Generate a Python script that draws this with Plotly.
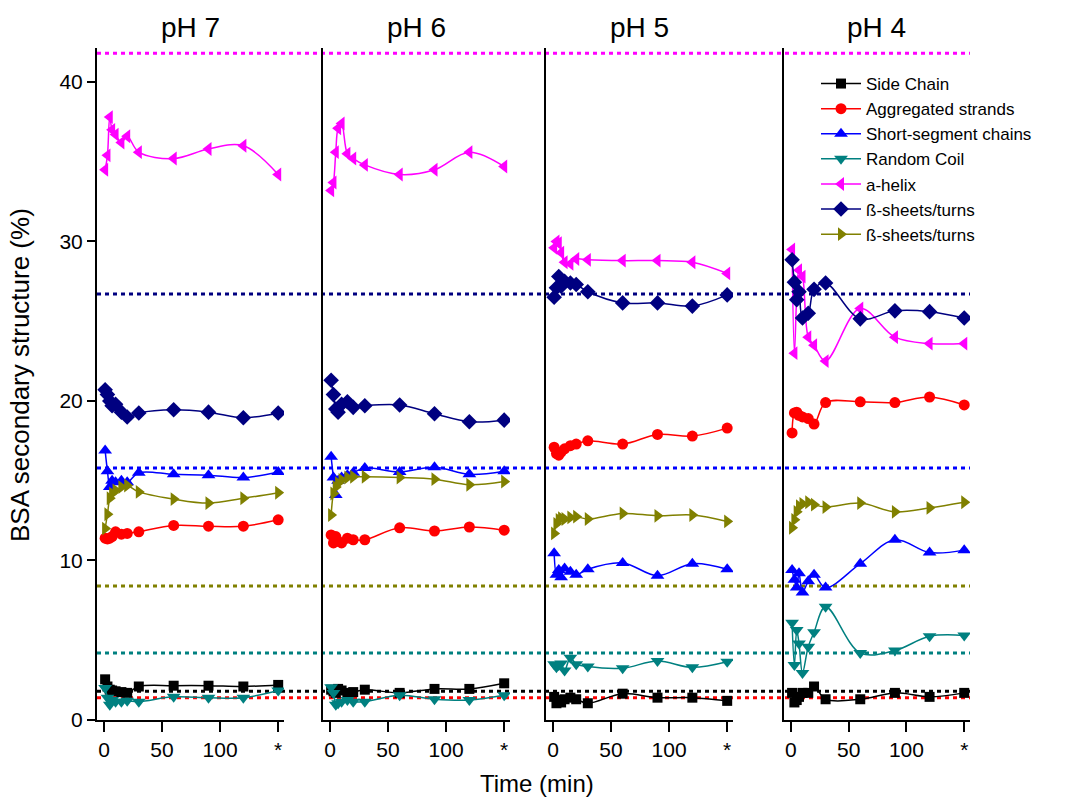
import plotly.graph_objects as go

panels = ["pH 7", "pH 6", "pH 5", "pH 4"]
times = [1, 3, 5, 7, 10, 15, 20, 30, 60, 90, 120, 150]
tick_vals = [0, 50, 100, 150]
tick_text = ["0", "50", "100", "*"]

series_names = ["Side Chain", "Aggregated strands", "Short-segment chains", "Random Coil",
                "a-helix", "ß-sheets/turns", "ß-sheets/turns"]
colors = ["#000000", "#FF0000", "#0000FF", "#008080", "#FF00FF", "#000080", "#808000"]
symbols = ["square", "circle", "triangle-up", "triangle-down", "triangle-left", "diamond", "triangle-right"]

# reference levels (dotted lines), same order as series
ref_levels = [1.8, 1.4, 15.8, 4.2, 41.8, 26.7, 8.4]

# pH 7
side_ph7 = [2.55, 2.1, 1.9, 1.85, 1.8, 1.75, 1.7, 2.1, 2.15, 2.15, 2.1, 2.2]
aggr_ph7 = [11.4, 11.35, 11.4, 11.5, 11.8, 11.65, 11.7, 11.8, 12.2, 12.15, 12.15, 12.55]
short_ph7 = [16.9, 15.6, 14.6, 15.0, 14.9, 15.0, 14.9, 15.5, 15.4, 15.35, 15.2, 15.55]
coil_ph7 = [2.0, 1.4, 0.95, 1.25, 1.15, 1.15, 1.2, 1.15, 1.45, 1.4, 1.4, 1.85]
helix_ph7 = [34.5, 35.4, 37.8, 37.0, 36.7, 36.2, 36.6, 35.6, 35.2, 35.8, 36.0, 34.2]
beta1_ph7 = [20.7, 20.4, 20.0, 19.7, 19.8, 19.3, 19.0, 19.25, 19.45, 19.3, 18.95, 19.25]
beta2_ph7 = [12.0, 12.9, 13.9, 14.2, 14.4, 14.6, 14.7, 14.3, 13.85, 13.6, 13.9, 14.25]

# pH 6
side_ph6 = [1.9, 1.8, 1.7, 1.95, 1.85, 1.7, 1.75, 1.9, 1.7, 1.95, 1.95, 2.3]
aggr_ph6 = [11.6, 11.1, 11.5, 11.2, 11.1, 11.4, 11.3, 11.3, 12.05, 11.85, 12.1, 11.9]
short_ph6 = [16.5, 15.2, 14.1, 15.0, 15.2, 15.35, 15.5, 15.8, 15.55, 15.85, 15.4, 15.6]
coil_ph6 = [2.05, 1.7, 0.95, 1.05, 1.15, 1.25, 1.15, 1.15, 1.55, 1.3, 1.25, 1.55]
helix_ph6 = [33.2, 33.7, 35.6, 37.1, 37.4, 35.5, 35.2, 34.8, 34.2, 34.5, 35.6, 34.7]
beta1_ph6 = [21.3, 20.4, 19.5, 19.3, 19.8, 19.95, 19.6, 19.7, 19.75, 19.2, 18.7, 18.8]
beta2_ph6 = [12.85, 14.2, 14.6, 14.85, 15.05, 15.2, 15.25, 15.25, 15.2, 15.1, 14.75, 14.95]

# pH 5
side_ph5 = [1.45, 1.05, 1.25, 1.1, 1.3, 1.4, 1.3, 1.05, 1.65, 1.4, 1.4, 1.2]
aggr_ph5 = [17.1, 16.7, 16.6, 16.8, 17.0, 17.2, 17.3, 17.5, 17.3, 17.9, 17.8, 18.3]
short_ph5 = [10.45, 9.1, 9.4, 8.95, 9.5, 9.3, 9.1, 9.45, 9.85, 9.05, 9.8, 9.45]
coil_ph5 = [3.5, 3.3, 3.45, 3.55, 3.1, 3.9, 3.5, 3.35, 3.25, 3.7, 3.3, 3.65]
helix_ph5 = [29.6, 30.0, 29.9, 29.3, 28.7, 28.6, 28.9, 28.85, 28.8, 28.8, 28.7, 28.0]
beta1_ph5 = [26.5, 27.1, 27.8, 27.2, 27.5, 27.4, 27.3, 26.85, 26.15, 26.15, 25.95, 26.65]
beta2_ph5 = [11.7, 12.3, 12.55, 12.65, 12.6, 12.7, 12.75, 12.6, 12.95, 12.8, 12.85, 12.45]

# pH 4
side_ph4 = [1.7, 1.1, 1.25, 1.45, 1.7, 1.7, 2.1, 1.3, 1.3, 1.7, 1.45, 1.7]
aggr_ph4 = [18.0, 19.25, 19.3, 19.1, 19.0, 18.9, 18.55, 19.9, 19.95, 19.9, 20.25, 19.75]
short_ph4 = [9.4, 8.8, 8.3, 9.2, 8.0, 8.7, 9.1, 8.3, 9.8, 11.3, 10.5, 10.65]
coil_ph4 = [6.1, 3.45, 5.65, 4.8, 2.95, 4.6, 5.5, 7.1, 4.2, 4.35, 5.25, 5.3]
helix_ph4 = [29.5, 23.0, 26.5, 28.2, 27.8, 24.0, 23.5, 22.5, 25.8, 24.0, 23.6, 23.6]
beta1_ph4 = [28.85, 27.45, 26.35, 26.85, 25.2, 25.5, 27.0, 27.4, 25.15, 25.65, 25.6, 25.2]
beta2_ph4 = [12.05, 12.55, 13.05, 13.4, 13.55, 13.65, 13.5, 13.35, 13.6, 13.05, 13.3, 13.65]

data = [
    [side_ph7, aggr_ph7, short_ph7, coil_ph7, helix_ph7, beta1_ph7, beta2_ph7],
    [side_ph6, aggr_ph6, short_ph6, coil_ph6, helix_ph6, beta1_ph6, beta2_ph6],
    [side_ph5, aggr_ph5, short_ph5, coil_ph5, helix_ph5, beta1_ph5, beta2_ph5],
    [side_ph4, aggr_ph4, short_ph4, coil_ph4, helix_ph4, beta1_ph4, beta2_ph4],
]

W, H = 1072, 801
ML, MR, MT, MB = 97, 102, 48, 81
PW = W - ML - MR
PH = H - MT - MB
# panel left/right edges in pixels relative to plot area
panel_px = [(0, 187), (226, 413), (449, 636), (687, 873)]
domains = [[a / PW, b / PW] for a, b in panel_px]

FONT = "Liberation Sans, Arial, sans-serif"
fig = go.Figure()

marker_sizes = [10, 11, 12, 12, 12, 12, 12]
for p in range(4):
    xa = "x" if p == 0 else f"x{p+1}"
    ya = "y" if p == 0 else f"y{p+1}"
    for s in range(7):
        fig.add_trace(go.Scatter(
            x=times, y=data[p][s], mode="lines+markers",
            name=series_names[s], legendgroup=f"g{s}", showlegend=(p == 0),
            line=dict(color=colors[s], width=1.5, shape="spline", smoothing=1.0),
            marker=dict(symbol=symbols[s], size=marker_sizes[s], color=colors[s]),
            xaxis=xa, yaxis=ya,
        ))

for p in range(4):
    sx = "" if p == 0 else str(p + 1)
    fig.layout[f"xaxis{sx}"] = dict(
        domain=domains[p], range=[-6, 155], anchor=f"y{sx}",
        showline=True, linecolor="black", linewidth=2, mirror=False,
        ticks="outside", ticklen=10, tickwidth=2, tickcolor="black",
        tickvals=tick_vals, ticktext=tick_text, showgrid=False, zeroline=False,
        tickfont=dict(family=FONT, size=21, color="black"),
    )
    ydict = dict(
        domain=[0, 1], range=[0, 42.13], anchor=f"x{sx}",
        showline=True, linecolor="black", linewidth=2,
        showgrid=False, zeroline=False,
    )
    if p == 0:
        ydict.update(ticks="outside", ticklen=8, tickwidth=2, tickcolor="black",
                     tickvals=[0, 10, 20, 30, 40],
                     tickfont=dict(family=FONT, size=21, color="black"))
    else:
        ydict.update(showticklabels=False, ticks="")
    fig.layout[f"yaxis{sx}"] = ydict

shapes = []
for s in range(7):
    shapes.append(dict(type="line", xref="paper", yref="y", x0=0, x1=1,
                       y0=ref_levels[s], y1=ref_levels[s], layer="below",
                       line=dict(color=colors[s], width=3, dash="4px,4px")))

annotations = []
for p in range(4):
    annotations.append(dict(text=panels[p], xref="paper", yref="paper",
                            x=(domains[p][0] + domains[p][1]) / 2, y=1.0,
                            yshift=3, xanchor="center", yanchor="bottom",
                            showarrow=False, font=dict(family=FONT, size=28, color="black")))
annotations.append(dict(text="Time (min)", xref="paper", yref="paper", x=(537 - ML) / PW, y=0,
                        yshift=-48, xanchor="center", yanchor="top", showarrow=False,
                        font=dict(family=FONT, size=24, color="black")))
annotations.append(dict(text="BSA secondary structure (%)", xref="paper", yref="paper",
                        x=0, xshift=-60, y=(H - MB - 375) / PH, textangle=-90,
                        xanchor="right", yanchor="middle",
                        showarrow=False, font=dict(family=FONT, size=26, color="black")))

fig.update_layout(
    width=W, height=H,
    margin=dict(l=ML, r=MR, t=MT, b=MB),
    paper_bgcolor="white", plot_bgcolor="white",
    shapes=shapes, annotations=annotations,
    showlegend=True,
    legend=dict(x=(816 - ML) / PW, y=(H - MB - 66) / PH, xanchor="left", yanchor="top",
                bgcolor="rgba(0,0,0,0)", font=dict(family=FONT, size=17, color="black"),
                tracegroupgap=0, itemwidth=40),
)

fig.write_html("out.html")
